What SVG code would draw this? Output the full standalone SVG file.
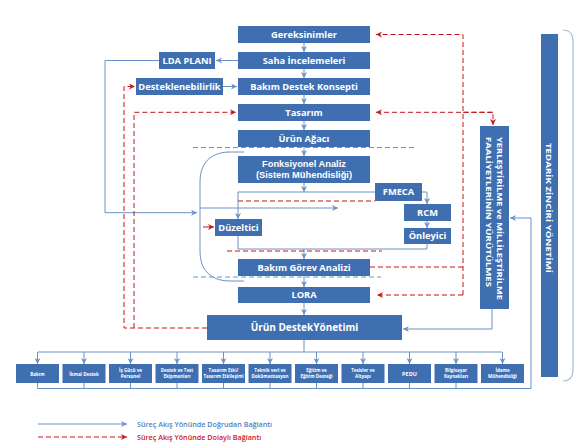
<svg xmlns="http://www.w3.org/2000/svg" width="587" height="448" viewBox="0 0 587 448">
<defs>
<style>
.box{fill:#3f6fb0}
.t{fill:#fff;font-family:"Open Sans","Liberation Sans",sans-serif;font-weight:700;font-size:9.3px;text-anchor:middle}
.t2{fill:#fff;font-family:"Liberation Sans",Arial,sans-serif;font-weight:700;font-size:9.3px;text-anchor:middle}
.ts{fill:#fff;font-family:"Open Sans","Liberation Sans",sans-serif;font-weight:700;font-size:4.5px;text-anchor:middle}
.tv{fill:#fff;font-family:"Open Sans","Liberation Sans",sans-serif;font-weight:700;font-size:7.5px}
.b{fill:none;stroke:#6a92c6;stroke-width:1}
.r{fill:none;stroke:#c4161c;stroke-width:1;stroke-dasharray:5,3}
.c{fill:none;stroke:#4ba6c6;stroke-width:1;stroke-dasharray:5,3}
.lg{font-family:"Open Sans","Liberation Sans",sans-serif;font-weight:600;font-size:7.2px}
</style>
<marker id="ab" markerUnits="userSpaceOnUse" markerWidth="7" markerHeight="7" refX="6" refY="3" orient="auto">
<path d="M0,0 L6,3 L0,6 L1.8,3 z" fill="#6a92c6"/>
</marker>
<marker id="ar" markerUnits="userSpaceOnUse" markerWidth="7" markerHeight="7" refX="6" refY="3" orient="auto">
<path d="M0,0 L6,3 L0,6 L1.8,3 z" fill="#c4161c"/>
</marker>
</defs>

<g id="connectors">
<path d="M563,30 Q573,30 573,42 V369 Q573,381 563,381" fill="none" stroke="#a9bdd8" stroke-width="1.2"/>
<path class="c" d="M193,147.5 H417"/>
<path class="c" d="M193,277 H381"/>
<path class="b" marker-end="url(#ab)" d="M304,43 V52"/>
<path class="b" marker-end="url(#ab)" d="M304,69 V78"/>
<path class="b" marker-end="url(#ab)" d="M304,95 V104"/>
<path class="b" marker-end="url(#ab)" d="M304,121 V130"/>
<path class="b" marker-end="url(#ab)" d="M304,147 V156"/>
<path class="b" marker-end="url(#ab)" d="M304,183 V192"/>
<path class="b" marker-end="url(#ab)" d="M304,249 V259"/>
<path class="b" marker-end="url(#ab)" d="M304,276 V287"/>
<path class="b" marker-end="url(#ab)" d="M304,303 V315"/>
<path class="b" marker-end="url(#ab)" d="M238,60.5 H216"/>
<path class="b" marker-end="url(#ab)" d="M223,86.5 H237"/>
<path class="b" marker-end="url(#ab)" d="M159,60.5 H105 V212.7 H197"/>
<path class="b" d="M244,152 H230 C214,152 200,160 200,182 V251 C200,273 214,281 230,281 H244"/>
<path class="b" marker-end="url(#ab)" d="M200,208 H338"/>
<path class="b" d="M238,192 H375"/>
<path class="b" marker-end="url(#ab)" d="M238,192 V219"/>
<path class="b" marker-end="url(#ab)" d="M422,192 H427 V204"/>
<path class="b" marker-end="url(#ab)" d="M427,221 V228"/>
<path class="b" d="M238,236 V249 H427 V244"/>
<path class="r" d="M238,201 H375"/>
<path class="r" d="M227,251 H382"/>
<path fill="none" stroke="#c4161c" stroke-width="1" marker-end="url(#ar)" d="M203,227 H214"/>
<path class="r" marker-end="url(#ar)" d="M207,328 H124 V86.5 H135"/>
<path class="r" marker-end="url(#ar)" d="M134,328 V112.3 H236"/>
<path class="r" marker-end="url(#ar)" d="M463,295 V34.5 H376"/>
<path class="r" marker-end="url(#ar)" d="M463,295 H377"/>
<path class="r" d="M370,267 H463"/>
<path class="r" marker-end="url(#ar)" d="M493,112.3 H376"/>
<path class="r" marker-end="url(#ar)" d="M463,112.3 H493 V125"/>
<path class="b" marker-end="url(#ab)" d="M492,309 V329 H403"/>
<path class="b" d="M304,340 V352 M38,352 H502"/>
<path class="b" marker-end="url(#ab)" d="M37.5,352 V364"/>
<path class="b" marker-end="url(#ab)" d="M84,352 V364"/>
<path class="b" marker-end="url(#ab)" d="M130.5,352 V364"/>
<path class="b" marker-end="url(#ab)" d="M177,352 V364"/>
<path class="b" marker-end="url(#ab)" d="M223.5,352 V364"/>
<path class="b" marker-end="url(#ab)" d="M270,352 V364"/>
<path class="b" marker-end="url(#ab)" d="M316.5,352 V364"/>
<path class="b" marker-end="url(#ab)" d="M363,352 V364"/>
<path class="b" marker-end="url(#ab)" d="M409.5,352 V364"/>
<path class="b" marker-end="url(#ab)" d="M456,352 V364"/>
<path class="b" marker-end="url(#ab)" d="M502.5,352 V364"/>
<path class="b" d="M37.5,383 V388.5 M84,383 V388.5 M130.5,383 V388.5 M177,383 V388.5 M223.5,383 V388.5 M270,383 V388.5 M316.5,383 V388.5 M363,383 V388.5 M409.5,383 V388.5 M456,383 V388.5"/>
<path class="b" marker-end="url(#ab)" d="M37.5,388.5 H531 V218 H510"/>
<path class="b" marker-end="url(#ab)" d="M38,424 H127"/>
<path class="r" marker-end="url(#ar)" d="M38,437 H127"/>
</g>

<g id="n-gereksinimler"><rect class="box" x="238" y="26" width="132" height="17"/><text class="t" x="304" y="37.8">Gereksinimler</text></g>
<g id="n-saha"><rect class="box" x="238" y="52" width="132" height="17"/><text class="t" x="304" y="63.8">Saha İncelemeleri</text></g>
<g id="n-konsept"><rect class="box" x="238" y="78" width="132" height="17"/><text class="t" x="304" y="89.8">Bakım Destek Konsepti</text></g>
<g id="n-tasarim"><rect class="box" x="238" y="104" width="132" height="17"/><text class="t" x="304" y="115.8">Tasarım</text></g>
<g id="n-agac"><rect class="box" x="238" y="130" width="132" height="17"/><text class="t" x="304" y="141.8">Ürün Ağacı</text></g>
<g id="n-fonk"><rect class="box" x="238" y="156" width="132" height="27"/><text class="t2" x="304" y="167.3">Fonksiyonel Analiz</text><text class="t2" x="304" y="177.8">(Sistem Mühendisliği)</text></g>
<g id="n-lda"><rect class="box" x="159" y="52" width="56" height="17"/><text class="t" x="187" y="63.8">LDA PLANI</text></g>
<g id="n-destek"><rect class="box" x="136" y="78" width="87" height="17"/><text class="t" x="179.5" y="89.8">Desteklenebilirlik</text></g>
<g id="n-fmeca"><rect class="box" x="375" y="183" width="47" height="18"/><text class="t" x="398.5" y="195.3">FMECA</text></g>
<g id="n-rcm"><rect class="box" x="404" y="204" width="47" height="17"/><text class="t" x="427.5" y="215.8">RCM</text></g>
<g id="n-onleyici"><rect class="box" x="404" y="228" width="47" height="16"/><text class="t" x="427.5" y="239.3">Önleyici</text></g>
<g id="n-duzeltici"><rect class="box" x="215" y="219" width="47" height="17"/><text class="t" x="238.5" y="230.8">Düzeltici</text></g>
<g id="n-gorev"><rect class="box" x="238" y="259" width="132" height="17"/><text class="t" x="304" y="270.8">Bakım Görev Analizi</text></g>
<g id="n-lora"><rect class="box" x="238" y="287" width="132" height="16"/><text class="t" x="304" y="298.3">LORA</text></g>
<g id="n-urundestek"><rect class="box" x="207" y="315" width="195" height="25"/><text class="t" x="304.5" y="331.3" style="font-size:10px">Ürün  DestekYönetimi</text></g>
<g id="n-yerlestirme"><rect class="box" x="480" y="126" width="29" height="183"/>
<text class="tv" transform="translate(496.5,137) rotate(90)" textLength="163" lengthAdjust="spacingAndGlyphs">YERLEŞTİRİLME ve MİLLİLEŞTİRİLME</text>
<text class="tv" transform="translate(485.5,137) rotate(90)" textLength="150" lengthAdjust="spacingAndGlyphs">FAALİYETLERİNİN YÜRÜTÜLMES</text></g>
<g id="n-tedarik"><rect class="box" x="541" y="34" width="17" height="343"/>
<text class="tv" transform="translate(546,143) rotate(90)" textLength="130" lengthAdjust="spacingAndGlyphs">TEDARİK ZİNCİRİ YÖNETİMİ</text></g>

<g id="n-b1"><rect class="box" x="16" y="364" width="43" height="19"/><text class="ts" x="37.5" y="375.5">Bakım</text></g>
<g id="n-b2"><rect class="box" x="62.5" y="364" width="43" height="19"/><text class="ts" x="84" y="375.5">İkmal Destek</text></g>
<g id="n-b3"><rect class="box" x="109" y="364" width="43" height="19"/><text class="ts" x="130.5" y="371.5">İş Gücü ve</text><text class="ts" x="130.5" y="377.8">Personel</text></g>
<g id="n-b4"><rect class="box" x="155.5" y="364" width="43" height="19"/><text class="ts" x="177" y="371.5">Destek ve Test</text><text class="ts" x="177" y="377.8">Ekipmanları</text></g>
<g id="n-b5"><rect class="box" x="202" y="364" width="43" height="19"/><text class="ts" x="223.5" y="371.5">Tasarım Etki/</text><text class="ts" x="223.5" y="377.8" textLength="40" lengthAdjust="spacingAndGlyphs">Tasarım Etkileşimi</text></g>
<g id="n-b6"><rect class="box" x="248.5" y="364" width="43" height="19"/><text class="ts" x="270" y="371.5">Teknik veri ve</text><text class="ts" x="270" y="377.8">Dokümantasyon</text></g>
<g id="n-b7"><rect class="box" x="295" y="364" width="43" height="19"/><text class="ts" x="316.5" y="371.5">Eğitim ve</text><text class="ts" x="316.5" y="377.8">Eğitim Desteği</text></g>
<g id="n-b8"><rect class="box" x="341.5" y="364" width="43" height="19"/><text class="ts" x="363" y="371.5">Tesisler ve</text><text class="ts" x="363" y="377.8">Altyapı</text></g>
<g id="n-b9"><rect class="box" x="388" y="364" width="43" height="19"/><text class="ts" x="409.5" y="375.5" style="font-size:5.5px">PEDU</text></g>
<g id="n-b10"><rect class="box" x="434.5" y="364" width="43" height="19"/><text class="ts" x="456" y="371.5">Bilgisayar</text><text class="ts" x="456" y="377.8">Kaynakları</text></g>
<g id="n-b11"><rect class="box" x="481" y="364" width="43" height="19"/><text class="ts" x="502.5" y="371.5">İdame</text><text class="ts" x="502.5" y="377.8">Mühendisliği</text></g>

<g id="legend">
<text class="lg" x="137" y="426.5" fill="#4f82c0">Süreç Akış Yönünde Doğrudan Bağlantı</text>
<text class="lg" x="137" y="439.5" fill="#d0141c">Süreç Akış Yönünde Dolaylı Bağlantı</text>
</g>
</svg>
